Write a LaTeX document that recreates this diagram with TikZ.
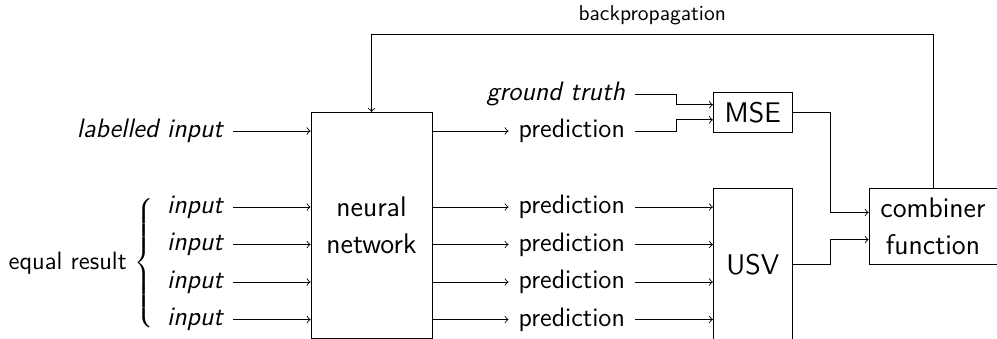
\documentclass[tikz,border=0pt]{standalone}
\usetikzlibrary{calc}

\tikzset{
	block/.style={draw, align=center, inner sep=2pt, font=\sffamily\fontsize{13.2}{17.2}\selectfont},
	lbl/.style={inner sep=4.5pt, font=\sffamily\fontsize{12.4}{15}\selectfont},
	ilbl/.style={lbl, font=\sffamily\fontsize{12.4}{15}\selectfont\itshape},
}

\begin{document}
\begin{tikzpicture}[x=0.4651pt, y=-0.4651pt, >=to]
		%%%%% START %%%%%
		\useasboundingbox (0, 0) rectangle (997, 339);
		
		% boxes
		\node[block, minimum width=56.3pt, minimum height=105.1pt] (nn) at (371.5, 225.3) {neural\\network};
		\node[block, minimum width=36.7pt, minimum height=18.6pt] (mse) at (752.8, 112.3) {MSE};
		\node[block, minimum width=36.7pt, minimum height=70.7pt] (usv) at (752.8, 264.2) {USV};
		\node[block, minimum width=59.5pt, minimum height=35.3pt] (comb) at (933, 226) {combiner\\function};
		
		% inputs
		\node[ilbl, anchor=east] (lin) at (233, 131) {labelled input};
		\foreach \i/\y in {1/207, 2/244.5, 3/282, 4/319.5}
			\node[ilbl, anchor=east] (in\i) at (233, \y) {input};
		\node[anchor=east, inner sep=0pt, font=\sffamily\fontsize{11.7}{14}\selectfont] (eq) at (157, 264)
			{equal result $\left\{\rule[-29.5pt]{0pt}{64pt}\right.$};
		
		% predictions
		\node[ilbl, anchor=east] (gt) at (635, 94) {ground truth};
		\foreach \i/\y in {0/131, 1/207, 2/244.5, 3/282, 4/319.5}
			\node[lbl, anchor=east] (p\i) at (635, \y) {prediction};
		
		% arrows into and out of the network
		\draw[->] (lin.east) -- (lin.east -| nn.west);
		\draw[->] (nn.east |- p0.west) -- (p0.west);
		\foreach \i in {1,...,4} {
			\draw[->] (in\i.east) -- (in\i.east -| nn.west);
			\draw[->] (nn.east |- p\i.west) -- (p\i.west);
			\draw[->] (p\i.east) -- (p\i.east -| usv.west);
		}
		
		% losses
		\draw[->] (gt.east) -- ++(41, 0) |- ([yshift=3.5pt]mse.west);
		\draw[->] (p0.east) -- ++(41, 0) |- ([yshift=-3.5pt]mse.west);
		\draw[->] (mse.east) -- ++(38, 0) |- ([yshift=6.3pt]comb.west);
		\draw[->] (usv.east) -- ++(38, 0) |- ([yshift=-6.3pt]comb.west);
		
		\draw[->] (comb.north) -- ++(0, -153) -| (nn.north)
			node[pos=0.25, above, inner sep=4.5pt, font=\sffamily] {backpropagation};
		
		%%%%% END %%%%%
	\end{tikzpicture}
\end{document}
